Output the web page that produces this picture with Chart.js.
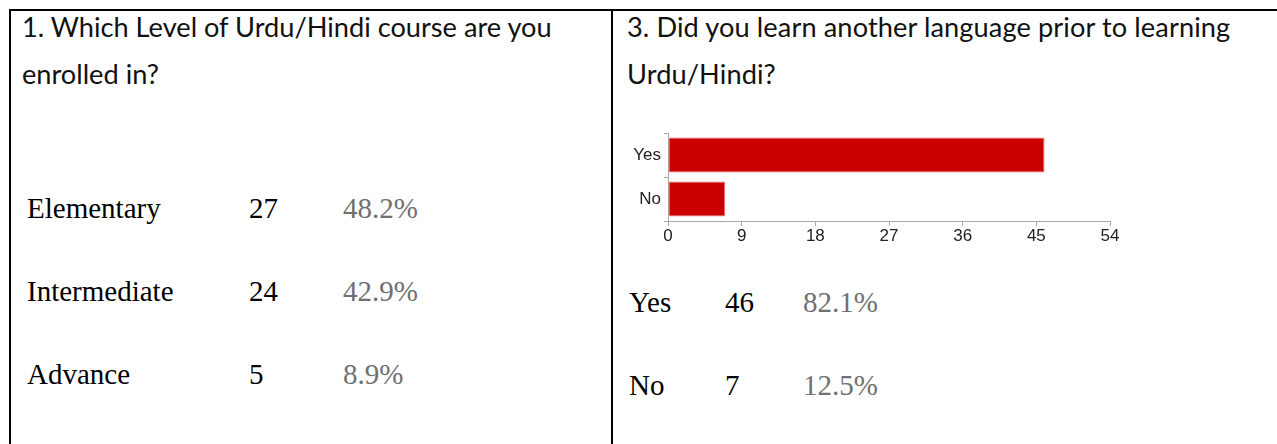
<!DOCTYPE html>
<html>
<head>
<meta charset="utf-8">
<script src="https://cdn.jsdelivr.net/npm/chart.js@4.4.0/dist/chart.umd.min.js"></script>
<style>
  html, body { margin: 0; padding: 0; background: #fff; }
  body { width: 1277px; height: 444px; position: relative; overflow: hidden; }
  .frame { position: absolute; left: 9px; top: 9px; width: 1300px; height: 500px; border-left: 2px solid #000; border-top: 2px solid #000; }
  .divider { position: absolute; left: 611px; top: 9px; width: 2px; height: 440px; background: #000; }
  .title { position: absolute; font-family: Lato, sans-serif; font-size: 27.2px; color: #111; white-space: nowrap; line-height: 47px; }
  .cell { position: absolute; font-family: "Liberation Serif", "Times New Roman", serif; font-size: 29px; color: #000; white-space: nowrap; line-height: 1; }
  .pct { color: #707070; }
  #chartBox { position: absolute; left: 620px; top: 123px; width: 510px; height: 124px; }
</style>
</head>
<body>
<div class="frame"></div>
<div class="divider"></div>

<div class="title" style="left:22px; top:3px;">1. Which Level of Urdu/Hindi course are you<br>enrolled in?</div>
<div class="title" style="left:627px; top:3px; letter-spacing:0.1px;">3. Did you learn another language prior to learning<br>Urdu/Hindi?</div>

<div id="chartBox"><canvas id="bar-chart"></canvas></div>

<script>
// question 1 - course level
var level_labels = ['Elementary', 'Intermediate', 'Advance'];
var level_counts = [27, 24, 5];
var level_pcts = ['48.2%', '42.9%', '8.9%'];

// question 3 - prior language
var prior_labels = ['Yes', 'No'];
var prior_counts = [46, 7];
var prior_pcts = ['82.1%', '12.5%'];

// x axis ticks of the bar chart
var tick_values = [0, 9, 18, 27, 36, 45, 54];

// write the little response tables
function addCell(text, x, y, cls) {
    var d = document.createElement('div');
    d.className = 'cell' + (cls ? ' ' + cls : '');
    d.style.left = x + 'px';
    d.style.top = y + 'px';
    d.textContent = text;
    document.body.appendChild(d);
}

for (var i = 0; i < level_labels.length; i++) {
    var y = 194 + i * 83;
    addCell(level_labels[i], 27, y);
    addCell(String(level_counts[i]), 249, y);
    addCell(level_pcts[i], 343, y, 'pct');
}

for (var j = 0; j < prior_labels.length; j++) {
    var y2 = 288 + j * 83;
    addCell(prior_labels[j], 629, y2);
    addCell(String(prior_counts[j]), 725, y2);
    addCell(prior_pcts[j], 803, y2, 'pct');
}

// bar chart
var axisGray = '#a8a8a8';
var tickFont = { family: 'Liberation Sans, Arial', size: 17 };

var barChart = new Chart(document.getElementById('bar-chart'), {
    type: 'bar',
    data: {
        labels: prior_labels,
        datasets: [
            {
                data: prior_counts,
                backgroundColor: '#cc0000',
                borderColor: '#e27a7a',
                borderWidth: 1,
                borderSkipped: false,
                categoryPercentage: 1.0,
                barPercentage: 0.8
            }
        ]
    },
    options: {
        indexAxis: 'y',
        responsive: true,
        maintainAspectRatio: false,
        animation: false,
        layout: {
            padding: { top: 10, right: 20, bottom: 0, left: 0 }
        },
        plugins: {
            legend: { display: false },
            tooltip: { enabled: false }
        },
        scales: {
            x: {
                min: 0,
                max: 54,
                afterBuildTicks: function (scale) {
                    scale.ticks = tick_values.map(function (v) { return { value: v }; });
                },
                afterFit: function (scale) {
                    scale.height = 26;
                    scale.paddingLeft = 0;
                    scale.paddingRight = 0;
                },
                border: { color: axisGray, width: 1 },
                grid: {
                    drawOnChartArea: false,
                    drawTicks: true,
                    tickLength: 5,
                    color: axisGray
                },
                ticks: {
                    color: '#222',
                    padding: 0,
                    maxRotation: 0,
                    font: tickFont
                }
            },
            y: {
                afterFit: function (scale) {
                    scale.width = 48;
                    scale.paddingTop = 0;
                    scale.paddingBottom = 0;
                },
                border: { color: axisGray, width: 1 },
                grid: {
                    drawOnChartArea: false,
                    drawTicks: true,
                    tickLength: 4,
                    color: axisGray
                },
                ticks: {
                    color: '#222',
                    padding: 3,
                    font: tickFont
                }
            }
        }
    }
});
</script>
</body>
</html>
